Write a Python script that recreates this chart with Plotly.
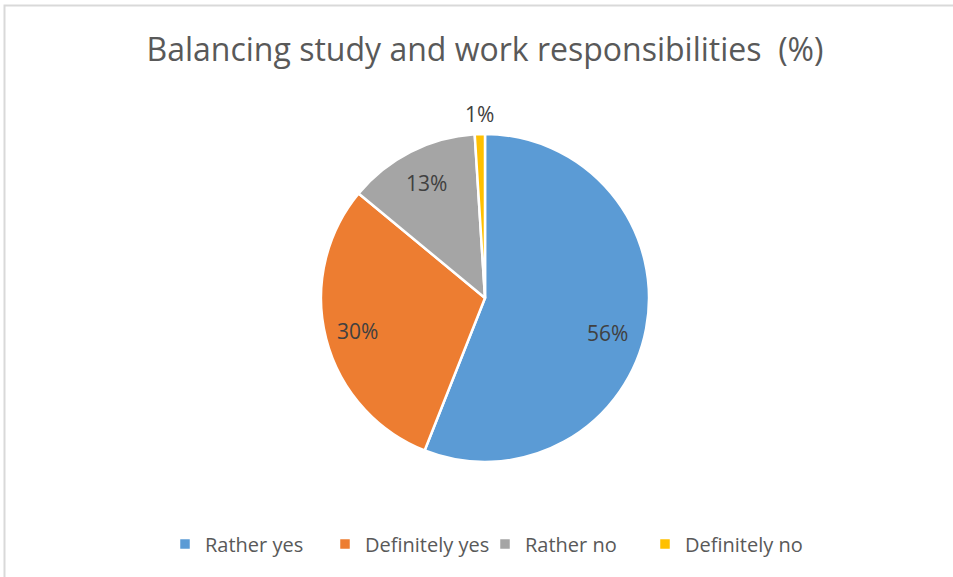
import math
import plotly.graph_objects as go

# Survey answers: balancing study and work responsibilities
categories = ["Rather yes", "Definitely yes", "Rather no", "Definitely no"]
shares = [56, 30, 13, 1]
colors = ["#5B9BD5", "#ED7D31", "#A5A5A5", "#FFC000"]
# label distance from the centre (fraction of radius) and angular nudge (deg)
label_radius = [0.775, 0.80, 0.79, 1.12]
label_shift_deg = [5, 0, 0, 0]

W, H = 953, 577
FONT = "'Open Sans', 'DejaVu Sans', sans-serif"

# pie box in pixels (centre 485,298, radius 164)
cx, cy, r = 485, 298, 164

fig = go.Figure(
    go.Pie(
        labels=categories,
        values=shares,
        marker=dict(colors=colors, line=dict(color="white", width=2.5)),
        sort=False,
        direction="clockwise",
        rotation=0,
        textinfo="none",
        hoverinfo="label+percent",
        domain=dict(
            x=[(cx - r) / W, (cx + r) / W],
            y=[(H - (cy + r)) / H, (H - (cy - r)) / H],
        ),
    )
)

# data labels near each slice's bisector, clockwise from 12 o'clock
total = sum(shares)
annotations = []
start = 0.0
for value, frac, shift in zip(shares, label_radius, label_shift_deg):
    mid = 2 * math.pi * (start + value / 2) / total + math.radians(shift)
    start += value
    px = cx + frac * r * math.sin(mid)
    py = cy - frac * r * math.cos(mid)
    annotations.append(
        dict(
            text=f"{value}%",
            x=px / W,
            y=(H - py) / H,
            xref="paper",
            yref="paper",
            showarrow=False,
            xanchor="center",
            yanchor="middle",
            font=dict(family=FONT, size=21, color="#404040"),
        )
    )

fig.update_layout(
    width=W,
    height=H,
    margin=dict(l=0, r=0, t=0, b=0),
    paper_bgcolor="white",
    plot_bgcolor="white",
    font=dict(family=FONT, color="#595959"),
    title=dict(
        text="Balancing study and work responsibilities  (%)",
        x=485 / W,
        xanchor="center",
        y=1 - 50 / H,
        yanchor="middle",
        font=dict(family=FONT, size=32, color="#595959"),
    ),
    legend=dict(
        orientation="h",
        x=485 / W,
        xanchor="center",
        y=1 - 544 / H,
        yanchor="middle",
        font=dict(family=FONT, size=20, color="#595959"),
        itemwidth=30,
        entrywidth=115,
        entrywidthmode="pixels",
        traceorder="normal",
    ),
    annotations=annotations,
    shapes=[
        dict(
            type="rect",
            xref="paper",
            yref="paper",
            x0=4.5 / W,
            x1=1.02,
            y0=-0.02,
            y1=1 - 5.5 / H,
            line=dict(color="#D9D9D9", width=2),
            fillcolor="rgba(0,0,0,0)",
            layer="below",
        )
    ],
)

fig.write_html("out.html")
